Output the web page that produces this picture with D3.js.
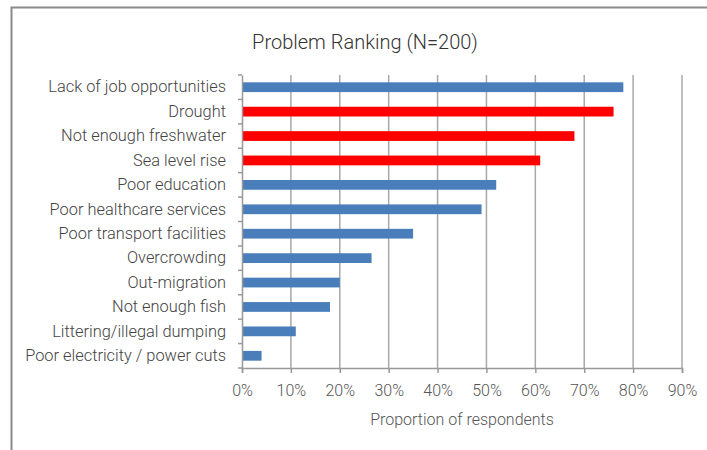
<!DOCTYPE html>
<html>
<head>
<meta charset="utf-8">
<script src="https://cdn.jsdelivr.net/npm/d3@7"></script>
<style>
  html, body { margin: 0; padding: 0; background: #fff; }
  svg { display: block; }
  text { font-family: Roboto, "Helvetica Neue", "Liberation Sans", sans-serif; font-weight: 300; fill: #444; }
</style>
</head>
<body>
<svg id="chart" width="707" height="450"></svg>
<script>
const categories = [
  "Lack of job opportunities",
  "Drought",
  "Not enough freshwater",
  "Sea level rise",
  "Poor education",
  "Poor healthcare services",
  "Poor transport facilities",
  "Overcrowding",
  "Out-migration",
  "Not enough fish",
  "Littering/illegal dumping",
  "Poor electricity / power cuts"
];
const values = [0.78, 0.76, 0.68, 0.61, 0.52, 0.49, 0.35, 0.265, 0.20, 0.18, 0.11, 0.04];
const climateProblems = ["Drought", "Not enough freshwater", "Sea level rise"];
const xTicks = [0, 0.1, 0.2, 0.3, 0.4, 0.5, 0.6, 0.7, 0.8, 0.9];
const title = "Problem Ranking (N=200)";
const xTitle = "Proportion of respondents";

const svg = d3.select("#chart");
const W = 707, H = 450;
const m = { left: 242, right: 707 - 682, top: 75, bottom: 450 - 368 };
const iw = W - m.left - m.right, ih = H - m.top - m.bottom;

// outer frame
svg.append("rect").attr("x", 11.5).attr("y", 7.5).attr("width", W).attr("height", H)
  .attr("fill", "none").attr("stroke", "#8a8a8a").attr("stroke-width", 2);

svg.append("text").attr("x", 365).attr("y", 49).attr("text-anchor", "middle")
  .style("font-size", "20px").style("fill", "#333").text(title);

const g = svg.append("g").attr("transform", `translate(${m.left},${m.top})`);
const x = d3.scaleLinear().domain([0, 0.9]).range([0, iw]);
const y = d3.scaleBand().domain(categories).range([0, ih]).paddingInner(0.6).paddingOuter(0.3);

// gridlines
g.append("g").selectAll("line").data(xTicks.slice(1)).join("line")
  .attr("x1", d => x(d)).attr("x2", d => x(d)).attr("y1", 0).attr("y2", ih)
  .attr("stroke", "#a8a8a8").attr("stroke-width", 1.5);

// bars
g.append("g").selectAll("rect").data(categories).join("rect")
  .attr("x", x(0)).attr("y", d => y(d))
  .attr("width", (d, i) => x(values[i]) - x(0))
  .attr("height", y.bandwidth())
  .attr("fill", d => climateProblems.includes(d) ? "#ff0000" : "#4a7ebb");

// x axis
const xAxis = g.append("g").attr("transform", `translate(0,${ih})`)
  .call(d3.axisBottom(x).tickValues(xTicks).tickFormat(d3.format(".0%")).tickSize(5).tickPadding(12));
xAxis.select(".domain").attr("stroke", "#999").attr("stroke-width", 1.5);
xAxis.selectAll(".tick line").attr("stroke", "#999").attr("stroke-width", 1.5);
xAxis.selectAll("text").style("font-size", "16px").style("fill", "#555")
  .style("font-family", "Roboto, sans-serif");

// y axis
const yAxis = g.append("g")
  .call(d3.axisLeft(y).tickSize(0).tickPadding(16));
yAxis.select(".domain").attr("stroke", "#999").attr("stroke-width", 1.5);
yAxis.selectAll("text").style("font-size", "16.4px").style("fill", "#444")
  .style("font-family", "Roboto, sans-serif");
// category boundary ticks
const bounds = d3.range(categories.length + 1).map(i => i * ih / categories.length);
g.append("g").selectAll("line").data(bounds).join("line")
  .attr("x1", -4).attr("x2", 0).attr("y1", d => d).attr("y2", d => d)
  .attr("stroke", "#999").attr("stroke-width", 1.5);

svg.append("text").attr("x", m.left + iw / 2).attr("y", 425).attr("text-anchor", "middle")
  .style("font-size", "16px").style("fill", "#555").text(xTitle);
</script>
</body>
</html>
